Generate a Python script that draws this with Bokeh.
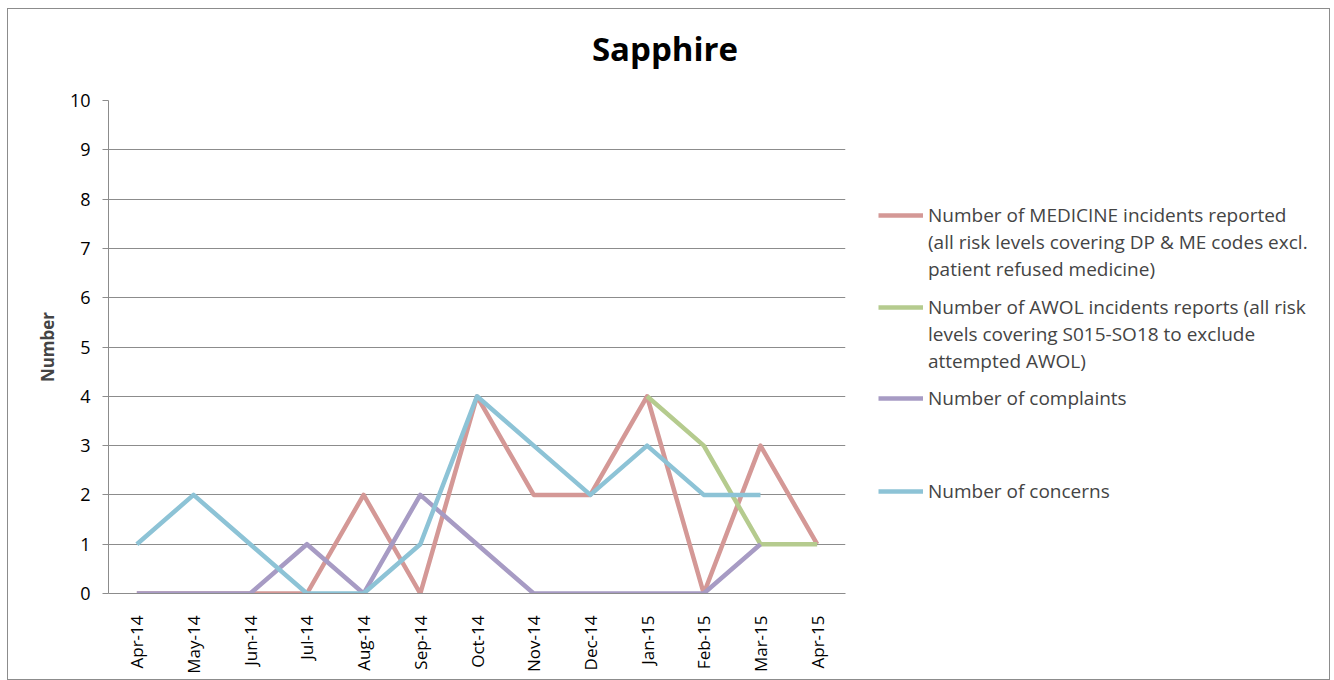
import math
from bokeh.plotting import figure
from bokeh.layouts import row, column
from bokeh.models import FactorRange, Range1d, Legend, LegendItem, FixedTicker, Div
from bokeh.embed import file_html
from bokeh.resources import INLINE

months = ["Apr-14", "May-14", "Jun-14", "Jul-14", "Aug-14", "Sep-14", "Oct-14",
          "Nov-14", "Dec-14", "Jan-15", "Feb-15", "Mar-15", "Apr-15"]
medicine = [0, 0, 0, 0, 2, 0, 4, 2, 2, 4, 0, 3, 1]
awol = [None, None, None, None, None, None, None, None, None, 4, 3, 1, 1]
complaints = [0, 0, 0, 1, 0, 2, 1, 0, 0, 0, 0, 1, None]
concerns = [1, 2, 1, 0, 0, 1, 4, 3, 2, 3, 2, 2, None]

chart_title = "Sapphire"
legend_lines = [
    ["Number of MEDICINE incidents reported",
     "(all risk levels covering DP & ME codes excl.",
     "patient refused medicine)"],
    ["Number of AWOL incidents reports (all risk",
     "levels covering S015-SO18 to exclude",
     "attempted AWOL)"],
    ["Number of complaints"],
    ["Number of concerns"],
]
colors = ["#D49896", "#B5CB8E", "#A79BC4", "#8DC3D6"]
FONT = "Open Sans"
NAN = float("nan")

H = 600
W1 = 852
W2 = 469
TITLE_H = 70

# ---------------- title ----------------
title_div = Div(text=chart_title, width=W1 + W2, height=TITLE_H, margin=0,
                styles={"font-family": "'Open Sans'", "font-size": "33px",
                        "font-weight": "bold", "text-align": "center",
                        "line-height": "1", "padding-top": "23px",
                        "padding-right": "7px",
                        "color": "black", "box-sizing": "border-box"})

# ---------------- main chart ----------------
p = figure(width=W1, height=H, x_range=FactorRange(factors=months, range_padding=0),
           y_range=Range1d(0, 10), output_backend="svg", toolbar_location=None,
           min_border_left=100, min_border_right=15, min_border_top=21,
           min_border_bottom=86)
p.outline_line_color = None
p.background_fill_color = "white"
p.border_fill_color = "white"

def clean(v):
    return [NAN if x is None else x for x in v]

for series, col in zip([medicine, awol, complaints, concerns], colors):
    p.line(months, clean(series), line_color=col, line_width=4.5, line_join="round")

p.yaxis.ticker = FixedTicker(ticks=list(range(0, 11)))
p.ygrid.grid_line_color = "#8c8c8c"
p.ygrid.grid_line_width = 1
p.xgrid.grid_line_color = None
p.yaxis.axis_line_color = "#8c8c8c"
p.yaxis.major_tick_line_color = "#8c8c8c"
p.yaxis.major_tick_out = 6
p.yaxis.major_tick_in = 0
p.yaxis.minor_tick_line_color = None
p.yaxis.major_label_text_font = FONT
p.yaxis.major_label_text_font_size = "18px"
p.yaxis.major_label_text_color = "black"
p.yaxis.major_label_standoff = 12
p.yaxis.axis_label = "Number"
p.yaxis.axis_label_text_font = FONT
p.yaxis.axis_label_text_font_style = "bold"
p.yaxis.axis_label_text_font_size = "17px"
p.yaxis.axis_label_standoff = 8

p.xaxis.axis_line_color = "#8c8c8c"
p.xaxis.major_tick_line_color = None
p.xaxis.major_label_orientation = math.pi / 2
p.xaxis.major_label_text_font = FONT
p.xaxis.major_label_text_font_size = "17px"
p.xaxis.major_label_text_color = "black"
p.xaxis.major_label_standoff = 16

# ---------------- legend panel ----------------
q = figure(width=W2, height=H, x_range=Range1d(0, 1), y_range=Range1d(0, 1),
           output_backend="svg", toolbar_location=None,
           x_axis_location=None, y_axis_location=None, min_border=0)
q.outline_line_color = None
q.grid.visible = False
q.border_fill_color = "white"
q.background_fill_color = "white"
q.title.visible = False

blank = q.line(x=[NAN], y=[NAN], line_alpha=0, line_width=4.5)
locs = [311, 219, 182, 89]
for lines, col, loc in zip(legend_lines, colors, locs):
    sw = q.line(x=[NAN], y=[NAN], line_color=col, line_width=4.5)
    items = [LegendItem(label=lines[0], renderers=[sw])]
    for extra in lines[1:]:
        items.append(LegendItem(label=extra, renderers=[blank]))
    lg = Legend(items=items, location=(18, loc), padding=0, margin=0, spacing=0,
                glyph_width=45, glyph_height=20, label_height=27, label_standoff=5,
                label_text_font=FONT, label_text_font_size="19px",
                border_line_color=None, background_fill_alpha=0)
    q.add_layout(lg, "center")

layout = column(title_div, row(p, q))
layout.styles = {"border": "1px solid #8c8c8c", "margin-left": "7px", "margin-top": "8px",
                 "background-color": "white"}

open("out.html", "w").write(file_html(layout, INLINE))
